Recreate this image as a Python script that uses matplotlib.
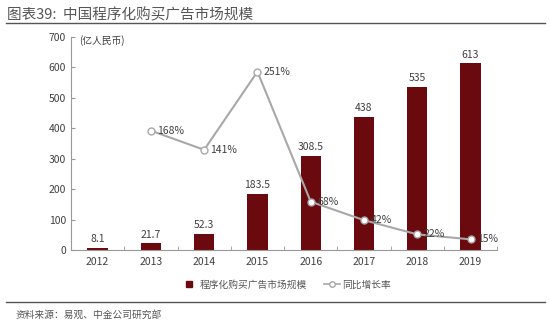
import numpy as np
import matplotlib
matplotlib.use("Agg")
import matplotlib.pyplot as plt
from matplotlib.lines import Line2D

plt.rcParams['font.family'] = ['Noto Sans CJK SC', 'DejaVu Sans']

years = ['2012', '2013', '2014', '2015', '2016', '2017', '2018', '2019']
market_size = [8.1, 21.7, 52.3, 183.5, 308.5, 438, 535, 613]
size_labels = ['8.1', '21.7', '52.3', '183.5', '308.5', '438', '535', '613']
growth_years = ['2013', '2014', '2015', '2016', '2017', '2018', '2019']
growth = [168, 141, 251, 68, 42, 22, 15]

bar_color = '#6b0a0e'
line_color = '#a8a8a8'
text_color = '#404040'

fig = plt.figure(figsize=(5.5, 3.32), dpi=100)
ax = fig.add_axes([0.129, 0.247, 0.775, 0.642])

x = np.arange(len(years))
ax.bar(x, market_size, width=0.38, color=bar_color, zorder=2)
for xi, v, s in zip(x, market_size, size_labels):
    ax.text(xi, v + 12, s, ha='center', va='bottom', fontsize=7.5, color=text_color)

ax.set_xlim(-0.5, len(years) - 0.5)
ax.set_ylim(0, 700)
ax.set_yticks(range(0, 701, 100))
ax.set_xticks(x)
ax.set_xticklabels(years)
ax.set_xticks(np.arange(-0.5, len(years), 1), minor=True)
ax.tick_params(axis='x', which='major', length=0, labelsize=7.5, colors=text_color, pad=5)
ax.tick_params(axis='x', which='minor', direction='in', length=3, color='#999999')
ax.tick_params(axis='y', direction='in', length=3, labelsize=7.5, colors=text_color, color='#999999')
for side in ['top', 'right']:
    ax.spines[side].set_visible(False)
for side in ['left', 'bottom']:
    ax.spines[side].set_color('#999999')
    ax.spines[side].set_linewidth(0.8)

ax.text(0.02, 0.985, '(亿人民币)', transform=ax.transAxes, fontsize=7, color=text_color,
        ha='left', va='center')

# growth rate on a hidden secondary scale
ax2 = ax.twinx()
ax2.set_ylim(0, 300)
ax2.axis('off')
gx = [years.index(y) for y in growth_years]
ax2.plot(gx, growth, color=line_color, lw=1.5, marker='o', ms=5,
         mfc='white', mec=line_color, mew=1, zorder=3)
for xi, g in zip(gx, growth):
    ax2.text(xi + 0.12, g, f'{g}%', ha='left', va='center', fontsize=7.5, color=text_color)

handles = [Line2D([], [], ls='none', marker='s', ms=5, color=bar_color),
           Line2D([], [], color=line_color, lw=1.2, marker='o', ms=4, mfc='white', mec=line_color)]
fig.legend(handles, ['程序化购买广告市场规模', '同比增长率'], loc='center',
           bbox_to_anchor=(0.52, 0.142), ncol=2, frameon=False, fontsize=7,
           handlelength=1.6, columnspacing=1.8, handletextpad=0.3, labelcolor='#555555')

fig.text(0.012, 0.955, '图表39:  中国程序化购买广告市场规模', fontsize=10.5, color='#555555',
         ha='left', va='center', style='italic')
fig.add_artist(Line2D([0.01, 0.99], [0.93, 0.93], color='#555555', lw=1))
fig.add_artist(Line2D([0.01, 0.99], [0.09, 0.09], color='#555555', lw=1))
fig.text(0.028, 0.053, '资料来源：易观、中金公司研究部', fontsize=7, color='#555555',
         ha='left', va='center', style='italic')

fig.savefig('out.png', dpi=100, facecolor='white')
